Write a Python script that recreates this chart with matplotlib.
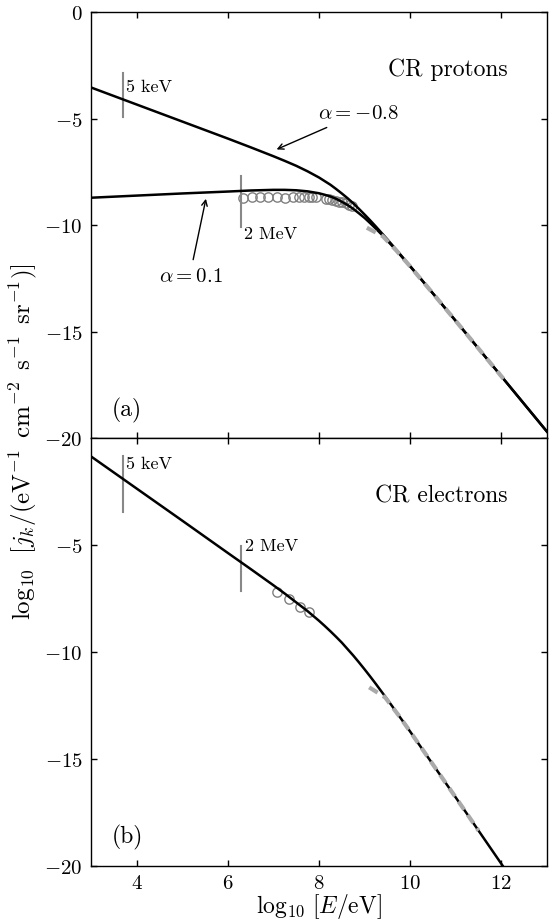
import matplotlib
matplotlib.use("Agg")
import matplotlib.pyplot as plt

plt.rcParams['font.family'] = 'serif'
plt.rcParams['font.serif'] = ['cmr10', 'DejaVu Serif']
plt.rcParams['mathtext.fontset'] = 'cm'
plt.rcParams['axes.formatter.use_mathtext'] = True

# ---------------- data ----------------
# model curves, log10 E [eV]
x_model = [3, 4, 5, 6, 6.5, 7, 7.25, 7.5, 7.75, 8, 8.125, 8.25, 8.375, 8.5,
           8.625, 8.75, 8.875, 9, 9.125, 9.25, 9.375, 9.5, 9.625, 9.75,
           9.875, 10, 10.25, 10.5, 10.75, 11, 11.5, 12, 12.5, 13]
p_alpha01 = [-8.71, -8.61, -8.51, -8.42, -8.37, -8.34, -8.34, -8.36, -8.41,
             -8.50, -8.57, -8.65, -8.76, -8.90, -9.05, -9.23, -9.44, -9.66,
             -9.91, -10.17, -10.44, -10.73, -11.02, -11.32, -11.63, -11.94,
             -12.57, -13.21, -13.86, -14.50, -15.80, -17.10, -18.40, -19.70]
p_alpham08 = [-3.53, -4.33, -5.13, -5.93, -6.34, -6.76, -6.98, -7.21, -7.47,
              -7.76, -7.93, -8.10, -8.30, -8.51, -8.73, -8.97, -9.23, -9.50,
              -9.78, -10.07, -10.37, -10.67, -10.98, -11.29, -11.61, -11.92,
              -12.56, -13.21, -13.85, -14.50, -15.80, -17.10, -18.40, -19.70]
x_model_e = [3, 4, 5, 6, 6.5, 7, 7.25, 7.5, 7.75, 8, 8.125, 8.25, 8.375, 8.5,
             8.625, 8.75, 8.875, 9, 9.125, 9.25, 9.375, 9.5, 9.625, 9.75,
             9.875, 10, 10.25, 10.5, 10.75, 11, 11.5, 12, 12.5]
e_model = [-0.86, -2.36, -3.86, -5.37, -6.12, -6.88, -7.27, -7.68, -8.09,
           -8.54, -8.78, -9.03, -9.29, -9.56, -9.86, -10.16, -10.48, -10.81,
           -11.15, -11.50, -11.86, -12.22, -12.59, -12.97, -13.34, -13.72,
           -14.49, -15.26, -16.03, -16.80, -18.35, -19.90, -21.45]

# proton data points (open circles)
p_data_x = [6.34, 6.52, 6.71, 6.89, 7.07, 7.25, 7.42, 7.56, 7.67, 7.77, 7.85,
            7.94, 8.15, 8.22, 8.29, 8.37, 8.44, 8.51, 8.59, 8.66, 8.73]
p_data_y = [-8.72, -8.69, -8.68, -8.67, -8.68, -8.70, -8.68, -8.67, -8.66,
            -8.66, -8.67, -8.68, -8.77, -8.79, -8.82, -8.85, -8.89, -8.93,
            -8.98, -9.04, -9.12]
# electron data points (open circles)
e_data_x = [7.07, 7.34, 7.58, 7.77]
e_data_y = [-7.20, -7.51, -7.90, -8.14]

# high-energy data (grey dashed)
p_hi_x = [9.05, 9.4, 9.7, 10.0, 10.5, 11.0, 11.5, 12.1]
p_hi_y = [-10.12, -10.52, -11.20, -11.94, -13.21, -14.50, -15.80, -17.36]
e_hi_x = [9.1, 9.45, 9.75, 10.0, 10.5, 11.0, 11.5]
e_hi_y = [-11.65, -12.12, -12.97, -13.72, -15.26, -16.80, -18.35]

# energy markers
marker_x = [3.7, 6.3]
marker_labels = ['5 keV', '2 MeV']
p_marker_y = [(-2.86, -4.94), (-7.69, -10.07)]
e_marker_y = [(-0.86, -3.47), (-5.06, -7.17)]

xticks = [4, 6, 8, 10, 12]

# ---------------- figure ----------------
fig = plt.figure(figsize=(5.5, 9.2), dpi=100)
ax1 = fig.add_axes([0.1655, 0.5228, 0.829, 0.4627])
ax2 = fig.add_axes([0.1655, 0.0576, 0.829, 0.4652])

GREY_M = '#888888'
GREY_D = '#aaaaaa'
GREY_C = '#808080'

for ax in (ax1, ax2):
    ax.set_xlim(3, 13)
    ax.set_ylim(-20, 0)
    ax.set_xticks(xticks)
    ax.tick_params(direction='in', top=True, right=True, length=4.5,
                   width=1, labelsize=15, pad=6)
    for s in ax.spines.values():
        s.set_linewidth(1.0)

ax1.set_yticks([-20, -15, -10, -5, 0])
ax1.tick_params(labelbottom=False)
ax2.set_yticks([-20, -15, -10, -5])

# ----- protons -----
ax1.plot(x_model, p_alpha01, color='k', lw=1.8, zorder=3)
ax1.plot(x_model, p_alpham08, color='k', lw=1.8, zorder=3)
ax1.plot(p_data_x, p_data_y, 'o', mfc='none', mec=GREY_C, ms=6.7, mew=1.0,
         zorder=2)
ax1.plot(p_hi_x, p_hi_y, color=GREY_D, lw=3, ls=(0, (2.4, 1.5)), zorder=4)
for xm, (y0, y1) in zip(marker_x, p_marker_y):
    ax1.plot([xm, xm], [y0, y1], color=GREY_M, lw=1.5, zorder=2)
ax1.text(3.76, -3.5, marker_labels[0], fontsize=13, ha='left', va='center')
ax1.text(6.36, -10.0, marker_labels[1], fontsize=13, ha='left', va='top')
ax1.text(12.14, -2.67, 'CR protons', fontsize=17, ha='right', va='center')
ax1.text(3.45, -18.64, '(a)', fontsize=17, ha='left', va='center')
ax1.text(8.86, -4.71, r'$\alpha=-0.8$', fontsize=15, ha='center', va='center')
ax1.annotate('', xy=(7.07, -6.44), xytext=(8.17, -5.41),
             arrowprops=dict(arrowstyle='->', lw=1.0, color='k',
                             shrinkA=0, shrinkB=0))
ax1.text(5.18, -12.37, r'$\alpha=0.1$', fontsize=15, ha='center', va='center')
ax1.annotate('', xy=(5.52, -8.76), xytext=(5.24, -11.62),
             arrowprops=dict(arrowstyle='->', lw=1.0, color='k',
                             shrinkA=0, shrinkB=0))

# ----- electrons -----
ax2.plot(x_model_e, e_model, color='k', lw=1.8, zorder=3)
ax2.plot(e_data_x, e_data_y, 'o', mfc='none', mec=GREY_C, ms=6.7, mew=1.0,
         zorder=2)
ax2.plot(e_hi_x, e_hi_y, color=GREY_D, lw=3, ls=(0, (2.4, 1.5)), zorder=4)
for xm, (y0, y1) in zip(marker_x, e_marker_y):
    ax2.plot([xm, xm], [y0, y1], color=GREY_M, lw=1.5, zorder=2)
ax2.text(3.76, -1.17, marker_labels[0], fontsize=13, ha='left', va='center')
ax2.text(6.38, -5.0, marker_labels[1], fontsize=13, ha='left', va='center')
ax2.text(12.14, -2.67, 'CR electrons', fontsize=17, ha='right', va='center')
ax2.text(3.45, -18.64, '(b)', fontsize=17, ha='left', va='center')

ax2.set_xlabel(r'$\log_{10}\,[E/\mathrm{eV}]$', fontsize=17, labelpad=-1)
fig.text(0.042, 0.52,
         r'$\log_{10}\ \,[j_k/(\mathrm{eV}^{-1}\ \,\mathrm{cm}^{-2}\ \,\mathrm{s}^{-1}\ \,\mathrm{sr}^{-1})]$',
         rotation=90, ha='center', va='center', fontsize=18)

fig.savefig('out.png', dpi=100)
